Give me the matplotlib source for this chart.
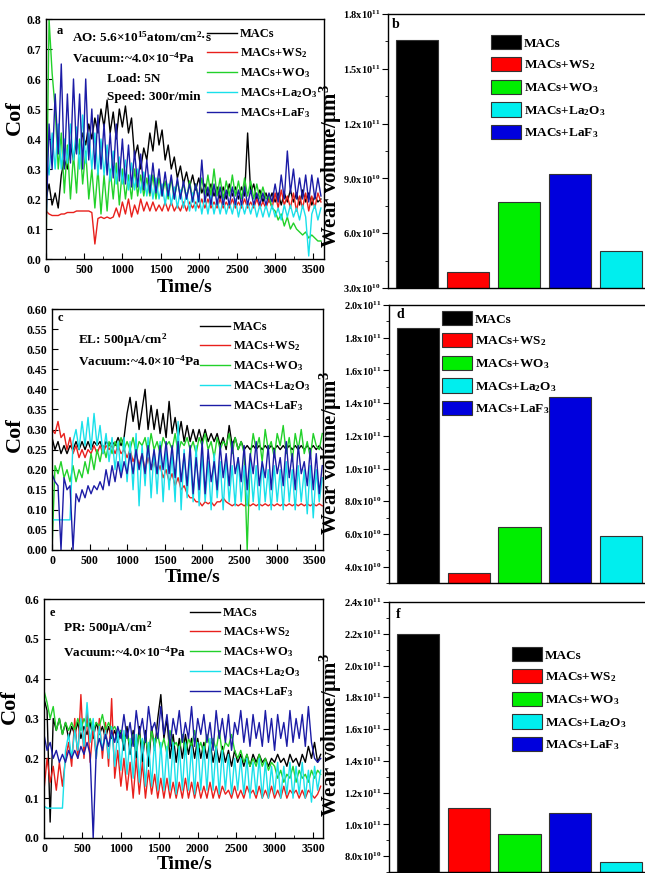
import numpy as np
import matplotlib
matplotlib.use("Agg")
import matplotlib.pyplot as plt
from matplotlib.ticker import MultipleLocator, FuncFormatter, AutoMinorLocator

plt.rcParams['font.family'] = ['Liberation Serif', 'DejaVu Serif']
plt.rcParams['font.weight'] = 'bold'
plt.rcParams['mathtext.fontset'] = 'custom'
plt.rcParams['mathtext.rm'] = 'Liberation Serif:bold'
plt.rcParams['mathtext.it'] = 'Liberation Serif:bold:italic'
plt.rcParams['mathtext.bf'] = 'Liberation Serif:bold'
plt.rcParams['axes.linewidth'] = 1.0

# ---------------- data ----------------
series_names = ['MACs', 'MACs+WS$_2$', 'MACs+WO$_3$', 'MACs+La$_2$O$_3$', 'MACs+LaF$_3$']
line_colors = ['#000000', '#e8201c', '#22d12a', '#19e0ea', '#1c1ca6']
bar_colors = ['#000000', '#ff0000', '#00ee00', '#00eeee', '#0000dd']
bar_order = ['MACs', 'MACs+WS$_2$', 'MACs+WO$_3$', 'MACs+LaF$_3$', 'MACs+La$_2$O$_3$']
bar_order_colors = ['#000000', '#ff0000', '#00ee00', '#0000dd', '#00eeee']

time_s = np.arange(0, 3601, 40)  # sampling grid (s)

# Panel a (AO)
a_macs = [0.20,0.25,0.18,0.22,0.17,0.28,0.33,0.30,0.38,0.33,0.40,0.35,0.42,0.38,0.45,0.40,0.47,0.42,0.50,0.44,
          0.53,0.42,0.49,0.40,0.50,0.44,0.51,0.42,0.47,0.34,0.38,0.30,0.37,0.33,0.42,0.36,0.46,0.38,0.43,0.33,
          0.38,0.30,0.34,0.27,0.31,0.25,0.29,0.24,0.28,0.23,0.27,0.22,0.25,0.21,0.25,0.21,0.24,0.20,0.24,0.20,
          0.25,0.21,0.24,0.20,0.24,0.21,0.42,0.22,0.25,0.20,0.23,0.19,0.22,0.19,0.22,0.19,0.22,0.18,0.22,0.19,
          0.23,0.19,0.22,0.18,0.23,0.19,0.22,0.18,0.21,0.19,0.20]
a_ws2 = [0.16,0.15,0.145,0.145,0.145,0.15,0.15,0.155,0.155,0.155,0.16,0.16,0.16,0.16,0.16,0.155,0.05,0.135,0.14,0.135,
         0.14,0.135,0.14,0.17,0.14,0.19,0.15,0.20,0.14,0.18,0.15,0.20,0.16,0.19,0.16,0.19,0.16,0.18,0.16,0.19,
         0.16,0.19,0.16,0.18,0.16,0.19,0.16,0.19,0.17,0.19,0.17,0.20,0.17,0.20,0.17,0.19,0.17,0.20,0.17,0.19,
         0.17,0.20,0.17,0.19,0.17,0.20,0.17,0.19,0.17,0.20,0.17,0.19,0.17,0.20,0.17,0.22,0.17,0.23,0.18,0.21,
         0.17,0.22,0.16,0.21,0.17,0.22,0.16,0.21,0.17,0.22,0.19]
a_wo3 = [0.02,0.80,0.62,0.50,0.30,0.42,0.22,0.38,0.20,0.35,0.22,0.40,0.25,0.36,0.20,0.30,0.17,0.30,0.15,0.28,
         0.16,0.30,0.20,0.32,0.18,0.30,0.20,0.28,0.20,0.30,0.21,0.28,0.21,0.27,0.21,0.28,0.20,0.27,0.21,0.26,
         0.20,0.27,0.20,0.26,0.21,0.25,0.20,0.26,0.20,0.25,0.20,0.27,0.21,0.28,0.21,0.30,0.21,0.27,0.20,0.26,
         0.21,0.28,0.21,0.26,0.20,0.27,0.21,0.26,0.20,0.25,0.20,0.24,0.20,0.21,0.17,0.16,0.13,0.15,0.11,0.14,
         0.10,0.12,0.10,0.09,0.08,0.09,0.07,0.08,0.07,0.06,0.06]
a_la2o3 = [0.35,0.28,0.42,0.30,0.45,0.30,0.40,0.32,0.45,0.33,0.44,0.30,0.48,0.32,0.42,0.30,0.42,0.28,0.40,0.28,
           0.38,0.26,0.36,0.25,0.34,0.25,0.33,0.23,0.32,0.23,0.30,0.22,0.29,0.21,0.28,0.20,0.27,0.20,0.25,0.18,
           0.25,0.18,0.24,0.17,0.23,0.17,0.22,0.16,0.22,0.16,0.22,0.15,0.21,0.15,0.21,0.15,0.20,0.15,0.20,0.15,
           0.19,0.15,0.20,0.14,0.19,0.15,0.19,0.15,0.19,0.14,0.18,0.14,0.18,0.14,0.18,0.14,0.17,0.13,0.18,0.14,
           0.18,0.14,0.17,0.13,0.18,0.14,0.01,0.15,0.18,0.13,0.17]
a_laf3 = [0.10,0.45,0.30,0.55,0.35,0.65,0.30,0.55,0.32,0.60,0.35,0.55,0.30,0.60,0.33,0.50,0.30,0.48,0.30,0.45,
          0.28,0.42,0.27,0.45,0.26,0.40,0.25,0.38,0.24,0.36,0.24,0.35,0.23,0.33,0.22,0.32,0.22,0.30,0.21,0.29,
          0.21,0.28,0.20,0.27,0.20,0.26,0.20,0.25,0.19,0.25,0.19,0.33,0.19,0.24,0.18,0.25,0.18,0.24,0.18,0.23,
          0.18,0.24,0.18,0.23,0.18,0.24,0.18,0.23,0.18,0.22,0.18,0.22,0.18,0.22,0.19,0.25,0.19,0.28,0.20,0.36,
          0.22,0.30,0.20,0.27,0.20,0.28,0.19,0.28,0.20,0.27,0.21]

# Panel c (EL)
c_macs = [0.28,0.25,0.27,0.24,0.26,0.24,0.26,0.25,0.27,0.25,0.27,0.25,0.27,0.25,0.27,0.26,0.27,0.25,0.27,0.26,
          0.27,0.26,0.28,0.26,0.28,0.34,0.38,0.32,0.37,0.30,0.35,0.40,0.30,0.36,0.30,0.35,0.29,0.34,0.28,0.37,
          0.29,0.33,0.28,0.32,0.27,0.31,0.27,0.30,0.27,0.30,0.27,0.30,0.27,0.29,0.27,0.29,0.26,0.28,0.25,0.31,
          0.26,0.28,0.25,0.27,0.25,0.26,0.25,0.26,0.25,0.26,0.25,0.26,0.25,0.26,0.25,0.26,0.25,0.26,0.25,0.26,
          0.25,0.26,0.25,0.26,0.25,0.26,0.25,0.26,0.25,0.26,0.25]
c_ws2 = [0.30,0.29,0.32,0.28,0.29,0.25,0.28,0.24,0.26,0.23,0.25,0.23,0.25,0.24,0.26,0.24,0.26,0.24,0.26,0.25,
         0.26,0.24,0.26,0.24,0.25,0.23,0.25,0.22,0.24,0.21,0.24,0.20,0.23,0.20,0.22,0.19,0.21,0.18,0.20,0.17,
         0.19,0.16,0.18,0.15,0.16,0.14,0.13,0.13,0.12,0.12,0.11,0.12,0.115,0.12,0.11,0.12,0.12,0.13,0.12,0.115,
         0.11,0.115,0.11,0.115,0.11,0.115,0.11,0.115,0.11,0.115,0.11,0.115,0.11,0.115,0.11,0.115,0.11,0.115,0.11,0.115,
         0.11,0.115,0.11,0.115,0.11,0.115,0.11,0.115,0.11,0.115,0.11]
c_wo3 = [0.00,0.21,0.19,0.22,0.18,0.20,0.17,0.21,0.17,0.20,0.18,0.22,0.19,0.24,0.20,0.25,0.22,0.26,0.23,0.27,
         0.24,0.27,0.25,0.28,0.25,
         0.27,0.25,0.28,0.24,0.27,0.26,0.28,0.24,0.29,0.25,0.27,0.24,0.28,0.26,0.27,0.25,0.29,0.24,0.27,0.26,
         0.28,0.25,0.27,0.24,0.28,0.26,0.29,0.25,0.27,0.23,0.28,0.25,0.27,0.26,0.29,0.24,0.28,0.25,0.27,0.24,
         0.00,0.23,0.29,0.25,0.28,0.22,0.30,0.25,0.27,0.23,0.29,0.26,0.31,0.24,0.28,0.22,0.29,0.25,0.30,0.24,
         0.27,0.23,0.29,0.26,0.25,0.29]
c_la2o3 = [0.075,0.075,0.075,0.075,0.075,0.075,0.075,0.27,0.30,0.25,0.32,0.26,0.33,0.25,0.34,0.26,0.31,0.24,0.29,0.22,
           0.28,0.20,0.27,0.19,0.28,0.17,0.27,0.15,0.29,0.11,0.26,0.16,0.28,0.13,0.25,0.14,0.27,0.12,0.25,0.15,
           0.24,0.12,0.32,0.10,0.25,0.13,0.24,0.12,0.26,0.11,0.24,0.12,0.22,0.10,0.24,0.13,0.22,0.10,0.23,0.12,
           0.21,0.11,0.23,0.12,0.21,0.11,0.22,0.12,0.21,0.10,0.22,0.12,0.20,0.10,0.21,0.12,0.20,0.10,0.22,0.12,
           0.20,0.10,0.21,0.12,0.20,0.09,0.21,0.08,0.20,0.12,0.18]
c_laf3 = [0.19,0.17,0.16,0.00,0.18,0.15,0.16,0.00,0.14,0.12,0.15,0.13,0.16,0.14,0.16,0.15,0.17,0.15,0.20,0.16,
          0.21,0.17,0.22,0.18,0.22,0.19,0.24,0.19,0.25,0.20,0.24,0.19,0.26,0.20,0.25,0.19,0.26,0.20,0.27,0.19,
          0.26,0.18,0.27,0.17,0.24,0.16,0.26,0.14,0.23,0.15,0.27,0.14,0.25,0.17,0.22,0.15,0.26,0.18,0.24,0.16,
          0.27,0.19,0.23,0.17,0.26,0.15,0.24,0.19,0.27,0.16,0.22,0.18,0.26,0.15,0.25,0.19,0.23,0.16,0.27,0.18,
          0.24,0.15,0.26,0.19,0.22,0.16,0.25,0.15,0.24,0.14,0.21]

# Panel e (PR)
e_macs = [0.35,0.32,0.04,0.30,0.27,0.30,0.26,0.29,0.25,0.28,0.26,0.29,0.25,0.28,0.26,0.29,0.25,0.29,0.26,0.28,
          0.25,0.28,0.25,0.27,0.24,0.27,0.22,0.28,0.21,0.27,0.20,0.28,0.19,0.27,0.18,0.28,0.22,0.30,0.36,0.25,
          0.30,0.20,0.26,0.19,0.25,0.20,0.26,0.21,0.25,0.20,0.25,0.20,0.24,0.20,0.24,0.19,0.23,0.19,0.23,0.19,
          0.22,0.18,0.22,0.19,0.21,0.18,0.21,0.18,0.21,0.19,0.21,0.19,0.20,0.18,0.20,0.19,0.21,0.19,0.20,0.18,
          0.21,0.19,0.20,0.18,0.21,0.19,0.23,0.20,0.24,0.19,0.21]
e_ws2 = [0.12,0.20,0.14,0.18,0.12,0.19,0.13,0.20,0.24,0.18,0.30,0.20,0.36,0.20,0.32,0.19,0.28,0.20,0.30,0.20,
         0.29,0.18,0.35,0.15,0.22,0.13,0.20,0.12,0.19,0.10,0.20,0.11,0.19,0.10,0.17,0.11,0.16,0.10,0.15,0.10,
         0.15,0.10,0.14,0.10,0.14,0.10,0.15,0.10,0.14,0.10,0.14,0.10,0.13,0.10,0.14,0.10,0.13,0.10,0.13,0.11,
         0.12,0.10,0.13,0.10,0.12,0.10,0.13,0.11,0.12,0.10,0.13,0.10,0.12,0.10,0.13,0.10,0.12,0.10,0.13,0.10,
         0.12,0.11,0.12,0.10,0.12,0.10,0.12,0.11,0.10,0.11,0.13]
e_wo3 = [0.37,0.34,0.30,0.33,0.27,0.30,0.26,0.29,0.27,0.29,0.27,0.30,0.27,0.30,0.28,0.30,0.27,0.29,0.28,0.31,
         0.27,0.29,0.27,0.28,0.26,0.27,0.24,0.26,0.23,0.26,
         0.22,0.26,0.23,0.25,0.21,0.27,0.23,0.26,0.22,0.25,0.21,0.27,0.23,0.24,0.22,0.26,0.21,0.25,0.23,0.27,
         0.22,0.24,0.21,0.26,0.23,0.25,0.22,0.27,0.21,0.24,0.23,0.26,0.22,
         0.20,0.22,0.19,0.21,0.18,0.20,0.18,0.21,0.18,0.20,0.17,0.19,0.18,
         0.15,0.17,0.14,0.16,0.15,0.18,0.14,0.17,0.15,0.16,0.14,0.17,0.15,0.17,0.16]
e_la2o3 = [0.08,0.075,0.075,0.075,0.075,0.075,0.075,0.22,0.26,0.20,0.27,0.22,0.30,0.23,0.34,0.24,0.30,0.20,0.28,0.22,
           0.27,0.20,0.28,0.18,0.27,0.17,0.27,0.16,0.25,0.15,0.26,0.14,0.25,0.13,0.24,0.13,0.25,0.12,0.24,0.12,
           0.23,0.12,0.24,0.11,0.23,0.12,0.24,0.12,0.23,0.11,0.24,0.12,0.23,0.12,0.25,0.12,0.23,0.11,0.22,0.12,
           0.21,0.11,0.20,0.12,0.20,0.11,0.20,0.10,0.19,0.11,0.20,0.10,0.19,0.10,0.18,0.11,0.19,0.10,0.18,0.11,
           0.19,0.10,0.18,0.11,0.19,0.10,0.17,0.09,0.18,0.12,0.17]
e_laf3 = [0.26,0.22,0.24,0.20,0.22,0.19,0.21,0.19,0.22,0.20,0.22,0.20,0.23,0.21,0.24,0.21,0.00,
          0.22,0.25,0.22,0.26,0.23,0.27,0.24,0.28,0.25,0.31,0.25,0.29,0.23,0.32,0.26,0.30,0.24,0.33,0.27,0.29,
          0.25,0.33,0.26,0.31,0.23,0.30,0.26,0.32,0.24,0.29,0.25,0.33,0.23,0.30,0.26,0.31,0.24,0.29,0.22,0.32,
          0.25,0.30,0.24,0.31,0.22,0.29,0.26,0.32,0.24,0.30,0.23,0.31,0.25,0.29,0.23,0.32,0.24,0.30,0.22,0.31,
          0.25,0.29,0.23,0.32,0.24,0.30,0.25,0.31,0.23,0.33,0.24,0.20,0.19,0.20]

# Wear volume (µm^3), in bar order: MACs, WS2, WO3, LaF3, La2O3
wear_b = [1.66e11, 3.86e10, 7.7e10, 9.25e10, 5.0e10]
wear_d = [1.86e11, 3.6e10, 6.45e10, 1.44e11, 5.85e10]
wear_f = [2.2e11, 1.10e11, 9.4e10, 1.07e11, 7.65e10]

W, H = 645, 873
fig = plt.figure(figsize=(W / 100, H / 100), dpi=100)

def rect(x0, y0, x1, y1):
    return [x0 / W, 1 - y1 / H, (x1 - x0) / W, (y1 - y0) / H]

def cof_panel(r, data, ylim, ystep, yfmt, xmax, letter, notes, leg_xy, ylab_pos, xlab_pos):
    ax = fig.add_axes(rect(*r))
    for vals, name, col in zip(data, series_names, line_colors):
        ax.plot(time_s, vals, color=col, lw=1.0, label=name)
    ax.set_xlim(0, xmax)
    ax.set_ylim(*ylim)
    ax.xaxis.set_major_locator(MultipleLocator(500))
    ax.xaxis.set_minor_locator(MultipleLocator(250))
    ax.yaxis.set_major_locator(MultipleLocator(ystep))
    ax.yaxis.set_major_formatter(FuncFormatter(lambda v, p: yfmt % v))
    ax.tick_params(axis='both', which='both', direction='in', labelsize=8.5)
    ax.tick_params(which='major', length=4)
    ax.tick_params(which='minor', length=2)
    for lab in ax.get_xticklabels() + ax.get_yticklabels():
        lab.set_fontweight('bold')
    ax.set_xlabel('Time/s', fontsize=14, fontweight='bold')
    ax.set_ylabel('Cof', fontsize=16, fontweight='bold')
    ax.xaxis.set_label_coords(*xlab_pos)
    ax.yaxis.set_label_coords(*ylab_pos)
    fig.text(letter[1] / W, 1 - letter[2] / H, letter[0],
             fontsize=9, fontweight='bold', va='center', ha='center')
    for txt, x, y in notes:
        fig.text(x / W, 1 - y / H, txt, fontsize=9.5, fontweight='bold', va='center', ha='left')
    fig.legend(*ax.get_legend_handles_labels(), loc='upper left',
               bbox_to_anchor=(leg_xy[0] / W, 1 - leg_xy[1] / H), frameon=False,
               prop={'family': 'Liberation Serif', 'weight': 'bold', 'size': 9},
               handlelength=2.4, handletextpad=0.25, labelspacing=0.5, borderpad=0, borderaxespad=0)
    return ax

def sci_fmt(v, p):
    if v <= 0:
        return ''
    e = int(np.floor(np.log10(v) + 1e-9))
    m = v / 10 ** e
    return '%.1fx10$^{%d}$' % (m, e)

def bar_panel(r, vals, ylim, ystep, letter, leg_xy, ylab_pos):
    ax = fig.add_axes(rect(*r))
    x = np.arange(1, 6)
    ax.bar(x, vals, width=0.83, color=bar_order_colors, edgecolor='#333333', linewidth=0.8, zorder=2)
    ax.set_xlim(0.43, 5.59)
    ax.set_ylim(*ylim)
    ax.set_xticks([])
    ax.yaxis.set_major_locator(MultipleLocator(ystep))
    ax.yaxis.set_minor_locator(AutoMinorLocator(2))
    ax.yaxis.set_major_formatter(FuncFormatter(sci_fmt))
    ax.tick_params(axis='y', which='both', direction='out', labelsize=7.5, pad=1.5)
    ax.tick_params(which='major', length=4)
    ax.tick_params(which='minor', length=2)
    ax.set_ylabel('Wear volume/μm$^3$', fontsize=15, fontweight='bold')
    ax.yaxis.set_label_coords(*ylab_pos)
    fig.text(letter[1] / W, 1 - letter[2] / H, letter[0], fontsize=10, fontweight='bold',
             va='center', ha='center')
    handles = [plt.Rectangle((0, 0), 1, 1, facecolor=c, edgecolor='#333333', lw=0.8) for c in bar_colors]
    fig.legend(handles, series_names, loc='upper left',
               bbox_to_anchor=(leg_xy[0] / W, 1 - leg_xy[1] / H), frameon=False,
               prop={'family': 'Liberation Serif', 'weight': 'bold', 'size': 9.5},
               handlelength=2.3, handleheight=1.3, handletextpad=0.2, labelspacing=0.55,
               borderpad=0, borderaxespad=0)
    return ax

# ---- left column ----
cof_panel((46, 19, 324, 259), [a_macs, a_ws2, a_wo3, a_la2o3, a_laf3], (0, 0.8), 0.1, '%.1f', 3640,
          ('a', 60, 31),
          [('AO: 5.6×10$^{15}$atom/cm$^2$·s', 72, 37), ('Vacuum:~4.0×10$^{-4}$Pa', 72, 58),
           ('Load: 5N', 107, 79), ('Speed: 300r/min', 107, 97)],
          (207, 28), (-0.075, 0.59), (0.5, -0.083))
cof_panel((52, 309, 323, 550), [c_macs, c_ws2, c_wo3, c_la2o3, c_laf3], (0, 0.6), 0.05, '%.2f', 3610,
          ('c', 60, 318),
          [('EL: 500μA/cm$^2$', 78, 340), ('Vacuum:~4.0×10$^{-4}$Pa', 78, 361)],
          (200, 321), (-0.10, 0.48), (0.517, -0.079))
cof_panel((44, 599, 323, 838), [e_macs, e_ws2, e_wo3, e_la2o3, e_laf3], (0, 0.6), 0.1, '%.1f', 3630,
          ('e', 52, 613),
          [('PR: 500μA/cm$^2$', 63, 628), ('Vacuum:~4.0×10$^{-4}$Pa', 63, 652)],
          (190, 607), (-0.086, 0.55), (0.505, -0.077))

# ---- right column ----
bar_panel((388, 14, 651, 288), wear_b, (3.0e10, 1.8e11), 3.0e10, ('b', 396, 25), (491, 35), (-0.167, 0.445))
bar_panel((389, 305, 651, 583), wear_d, (3.0e10, 2.0e11), 2.0e10, ('d', 400, 315), (442, 311), (-0.172, 0.468))
bar_panel((389, 602, 651, 872), wear_f, (7.0e10, 2.4e11), 2.0e10, ('f', 398, 615), (512, 647), (-0.172, 0.507))

fig.savefig('out.png', dpi=100)
